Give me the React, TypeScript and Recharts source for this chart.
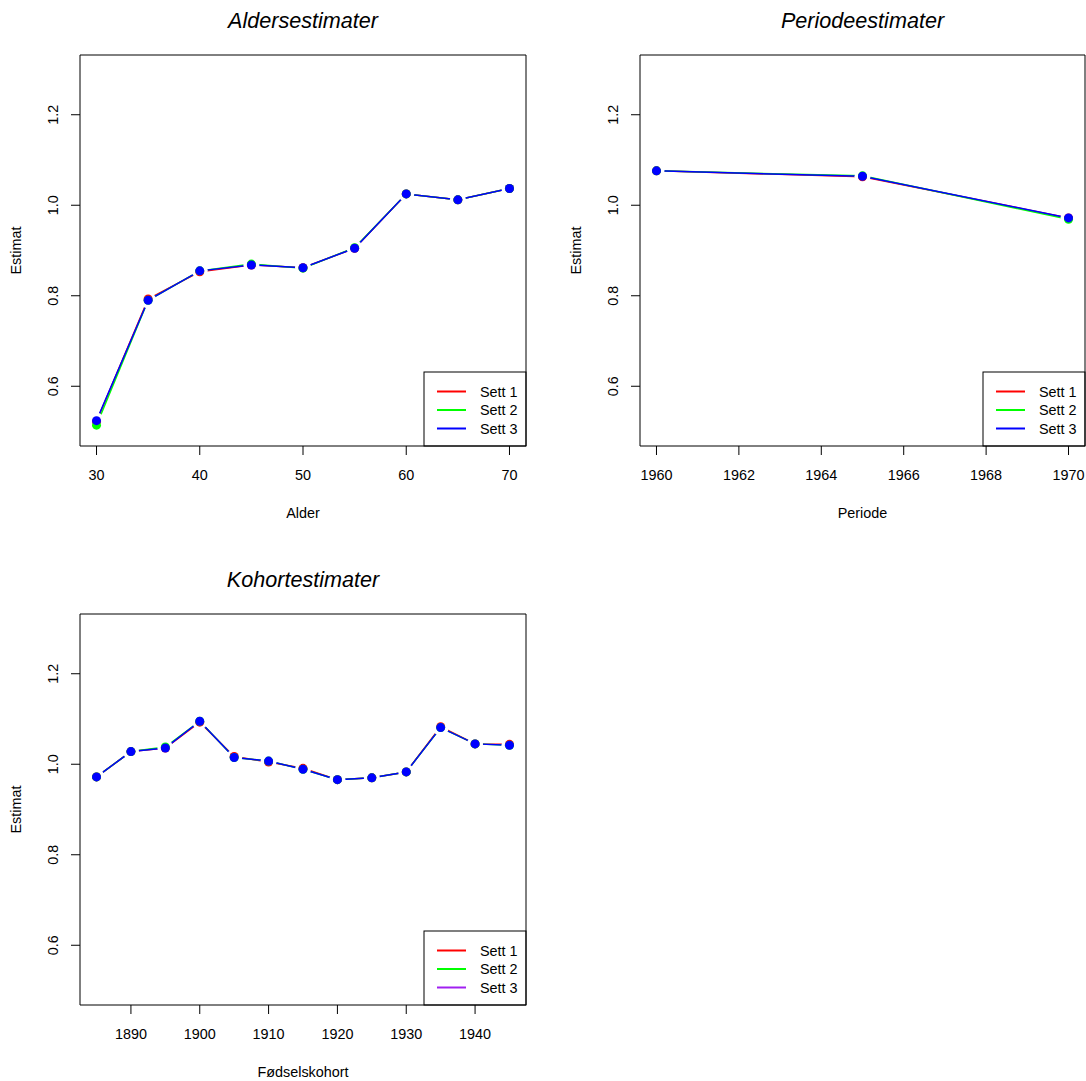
import React from 'react';
import { LineChart, Line, XAxis, YAxis, ReferenceArea, Customized } from 'recharts';

// ---------- data ----------
const seriesNames = ['Sett 1', 'Sett 2', 'Sett 3'];

const ageX = [30, 35, 40, 45, 50, 55, 60, 65, 70];
const ageS1 = [0.522, 0.793, 0.853, 0.868, 0.862, 0.905, 1.025, 1.012, 1.037];
const ageS2 = [0.514, 0.79, 0.855, 0.87, 0.861, 0.906, 1.025, 1.012, 1.037];
const ageS3 = [0.524, 0.79, 0.855, 0.868, 0.862, 0.905, 1.025, 1.012, 1.037];
const ageTicks = [30, 40, 50, 60, 70];

const periodX = [1960, 1965, 1970];
const periodS1 = [1.076, 1.063, 0.972];
const periodS2 = [1.076, 1.065, 0.969];
const periodS3 = [1.076, 1.064, 0.972];
const periodTicks = [1960, 1962, 1964, 1966, 1968, 1970];

const cohortX = [1885, 1890, 1895, 1900, 1905, 1910, 1915, 1920, 1925, 1930, 1935, 1940, 1945];
const cohortS1 = [0.972, 1.028, 1.036, 1.093, 1.017, 1.005, 0.991, 0.966, 0.97, 0.983, 1.083, 1.045, 1.044];
const cohortS2 = [0.972, 1.028, 1.038, 1.095, 1.015, 1.007, 0.989, 0.966, 0.97, 0.983, 1.081, 1.045, 1.042];
const cohortS3 = [0.972, 1.028, 1.036, 1.095, 1.015, 1.007, 0.989, 0.966, 0.97, 0.983, 1.081, 1.045, 1.042];
const cohortTicks = [1890, 1900, 1910, 1920, 1930, 1940];

const yTicks = [0.6, 0.8, 1.0, 1.2];
const yDomain: [number, number] = [0.468, 1.332];

const FONT = '"Liberation Sans", Arial, Helvetica, sans-serif';
const W = 1086;
const H = 1081;
const AX = 30; // axis size reserved inside margins

type Box = { left: number; top: number; right: number; bottom: number };

interface PanelProps {
  box: Box;
  title: string;
  xLabel: string;
  xDomain: [number, number];
  xTicks: number[];
  xs: number[];
  s1: number[];
  s2: number[];
  s3: number[];
  lineColors: string[];
  legendColors: string[];
}

function Panel(p: PanelProps) {
  const data = p.xs.map((x, i) => ({ x, s1: p.s1[i], s2: p.s2[i], s3: p.s3[i] }));
  const { box } = p;
  const cx = (box.left + box.right) / 2;
  const cy = (box.top + box.bottom) / 2;
  const legW = 102;
  const legH = 74;
  const legL = box.right - legW;
  const legT = box.bottom - legH;

  const xTick = (props: any) => {
    const { x, payload } = props;
    return (
      <text x={x} y={box.bottom + 34} textAnchor="middle" fontSize={14.4} fontFamily={FONT} fill="#000">
        {payload.value}
      </text>
    );
  };
  const yTick = (props: any) => {
    const { y, payload } = props;
    const bx = box.left - 22;
    return (
      <text
        x={bx}
        y={y}
        textAnchor="middle"
        fontSize={14.4}
        fontFamily={FONT}
        fill="#000"
        transform={`rotate(-90 ${bx} ${y})`}
      >
        {Number(payload.value).toFixed(1)}
      </text>
    );
  };

  const Texts = () => (
    <g>
      <text
        x={cx}
        y={box.top - 27}
        textAnchor="middle"
        fontSize={21.6}
        fontStyle="italic"
        fontFamily={FONT}
        fill="#000"
      >
        {p.title}
      </text>
      <text x={cx} y={box.bottom + 72} textAnchor="middle" fontSize={14.4} fontFamily={FONT} fill="#000">
        {p.xLabel}
      </text>
      <text
        x={box.left - 59}
        y={cy}
        textAnchor="middle"
        fontSize={14.4}
        fontFamily={FONT}
        fill="#000"
        transform={`rotate(-90 ${box.left - 59} ${cy})`}
      >
        Estimat
      </text>
      <rect x={legL} y={legT} width={legW} height={legH} fill="#fff" stroke="#000" strokeWidth={1} />
      {seriesNames.map((n, i) => {
        const ry = legT + 19.5 + i * 18.5;
        return (
          <g key={n}>
            <line x1={legL + 13} x2={legL + 42} y1={ry} y2={ry} stroke={p.legendColors[i]} strokeWidth={2} />
            <text x={legL + 56} y={ry + 5} fontSize={14.4} fontFamily={FONT} fill="#000">
              {n}
            </text>
          </g>
        );
      })}
    </g>
  );

  return (
    <div style={{ position: 'absolute', left: 0, top: 0, width: W, height: H }}>
      <LineChart
        width={W}
        height={H}
        data={data}
        margin={{ left: box.left - AX, top: box.top, right: W - box.right, bottom: H - box.bottom - AX }}
      >
        <XAxis
          dataKey="x"
          type="number"
          domain={p.xDomain}
          ticks={p.xTicks}
          allowDataOverflow
          axisLine={false}
          tickLine={{ stroke: '#000' }}
          tickSize={9}
          tickMargin={0}
          height={AX}
          tick={xTick}
          interval={0}
        />
        <YAxis
          type="number"
          domain={yDomain}
          ticks={yTicks}
          allowDataOverflow
          axisLine={false}
          tickLine={{ stroke: '#000' }}
          tickSize={9}
          tickMargin={0}
          width={AX}
          tick={yTick}
          interval={0}
        />
        <ReferenceArea
          x1={p.xDomain[0]}
          x2={p.xDomain[1]}
          y1={yDomain[0]}
          y2={yDomain[1]}
          fill="none"
          stroke="#000"
          strokeWidth={1}
          ifOverflow="visible"
        />
        <Line dataKey="s1" stroke={p.lineColors[0]} strokeWidth={1.5} dot={false} activeDot={false} isAnimationActive={false} />
        <Line dataKey="s2" stroke={p.lineColors[1]} strokeWidth={1.5} dot={false} activeDot={false} isAnimationActive={false} />
        <Line dataKey="s3" stroke={p.lineColors[2]} strokeWidth={1.5} dot={false} activeDot={false} isAnimationActive={false} />
        <Line dataKey="s3" stroke="none" dot={{ r: 8, fill: '#fff', stroke: 'none' }} activeDot={false} isAnimationActive={false} />
        <Line dataKey="s1" stroke="none" dot={{ r: 4.5, fill: p.lineColors[0], stroke: 'none' }} activeDot={false} isAnimationActive={false} />
        <Line dataKey="s2" stroke="none" dot={{ r: 4.5, fill: p.lineColors[1], stroke: 'none' }} activeDot={false} isAnimationActive={false} />
        <Line dataKey="s3" stroke="none" dot={{ r: 4.5, fill: '#0000FF', stroke: 'none' }} activeDot={false} isAnimationActive={false} />
        <Customized component={Texts} />
      </LineChart>
    </div>
  );
}

export default function App() {
  const rgb = ['#FF0000', '#00FF00', '#0000FF'];
  const rgp = ['#FF0000', '#00FF00', '#A020F0'];
  return (
    <div style={{ position: 'absolute', left: 0, top: 0, width: W, height: H, background: '#fff', overflow: 'hidden' }}>
      <Panel
        box={{ left: 80, top: 55, right: 526, bottom: 446 }}
        title="Aldersestimater"
        xLabel="Alder"
        xDomain={[28.4, 71.6]}
        xTicks={ageTicks}
        xs={ageX}
        s1={ageS1}
        s2={ageS2}
        s3={ageS3}
        lineColors={rgb}
        legendColors={rgb}
      />
      <Panel
        box={{ left: 640, top: 55, right: 1085, bottom: 446 }}
        title="Periodeestimater"
        xLabel="Periode"
        xDomain={[1959.6, 1970.4]}
        xTicks={periodTicks}
        xs={periodX}
        s1={periodS1}
        s2={periodS2}
        s3={periodS3}
        lineColors={rgb}
        legendColors={rgb}
      />
      <Panel
        box={{ left: 80, top: 614, right: 526, bottom: 1005 }}
        title="Kohortestimater"
        xLabel="Fødselskohort"
        xDomain={[1882.6, 1947.4]}
        xTicks={cohortTicks}
        xs={cohortX}
        s1={cohortS1}
        s2={cohortS2}
        s3={cohortS3}
        lineColors={rgb}
        legendColors={rgp}
      />
    </div>
  );
}
